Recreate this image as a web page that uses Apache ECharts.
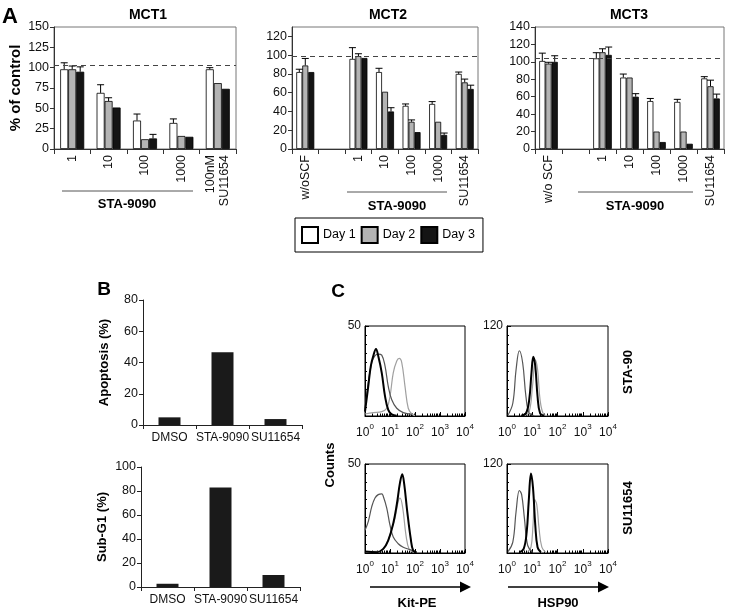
<!DOCTYPE html>
<html><head><meta charset="utf-8">
<script src="https://cdn.jsdelivr.net/npm/echarts@6/dist/echarts.min.js"></script>
<style>html,body{margin:0;padding:0;background:#fff}#c{width:733px;height:615px}</style>
</head><body><div id="c"></div>
<script>
// ---------- Panel A data ----------
const mct1Cats = ['1', '10', '100', '1000', '100nM\nSU11654'];
const mct1Day1 = [98, 69, 35, 32, 98];
const mct1Day2 = [98, 59, 12, 16, 81];
const mct1Day3 = [95, 51, 13, 15, 74];
const mct1Err1 = [8, 10, 8, 5, 2];
const mct1Err2 = [4, 4, null, null, null];
const mct1Err3 = [6, null, 5, null, null];
const mct1Ref = 103;
const mct1Ticks = [0, 150, 25];

const mct2Cats = ['w/oSCF', '', '1', '10', '100', '1000', 'SU11654'];
const mct2Day1 = [82, null, 96, 82, 46, 48, 80];
const mct2Day2 = [89, null, 99, 61, 29, 29, 71];
const mct2Day3 = [82, null, 97, 40, 18, 15, 64];
const mct2Err1 = [3, null, 12, 4, 2, 2.5, 2];
const mct2Err2 = [7.5, null, 2.5, null, 2, null, 3.5];
const mct2Err3 = [null, null, null, 4, null, 2, 4];
const mct2Ref = 99;
const mct2Ticks = [0, 130, 20];

const mct3Cats = ['w/o SCF', '', '1', '10', '100', '1000', 'SU11654'];
const mct3Day1 = [101, null, 104, 82, 55, 54, 81];
const mct3Day2 = [98, null, 111, 82, 20, 20, 72];
const mct3Day3 = [100, null, 108, 60, 8, 6, 58];
const mct3Err1 = [9, null, 6.5, 4, 3, 3, 2];
const mct3Err2 = [1.5, null, 4, null, null, null, 7];
const mct3Err3 = [7, null, 9, 3.5, null, null, 5];
const mct3Ref = 104;
const mct3Ticks = [0, 140, 20];

const dayNames = ['Day 1', 'Day 2', 'Day 3'];

// ---------- Panel B data ----------
const bCats = ['DMSO', 'STA-9090', 'SU11654'];
const apoptosis = [4.9, 46.5, 3.8];
const subG1 = [2.7, 83, 10];

// ---------- Panel C data (x in decades of fluorescence, y = counts) ----------
const decadeLabels = [0, 1, 2, 3, 4];
const tlBlack = [[0,2.4],[0.13,16.4],[0.23,27.6],[0.33,33.3],[0.44,37.2],[0.53,33.3],[0.67,24],[0.8,11],[0.93,3.4],[1.07,0.9],[1.27,0.2]];
const tlDark  = [[0,3.4],[0.13,18.4],[0.27,29.7],[0.4,33.5],[0.53,34.4],[0.67,33.8],[0.8,27.8],[0.93,16.5],[1.07,9],[1.27,4.3],[1.53,1.9],[1.87,0.9]];
const tlLight = [[0,1.1],[0.33,1.9],[0.67,2.4],[0.87,4.3],[1.0,10.9],[1.13,24],[1.27,30.6],[1.37,32],[1.47,29.7],[1.6,16.5],[1.73,4.3],[1.87,1.1],[2.0,0.2]];
const trDark  = [[0.04,1.4],[0.23,17],[0.36,62],[0.49,87],[0.62,71],[0.75,26],[0.88,3.6],[1.08,0.5]];
const trBlack = [[0.56,0.5],[0.75,3.6],[0.88,21.7],[0.97,57.7],[1.04,79],[1.12,66.8],[1.21,26],[1.31,3.6],[1.47,0.5]];
const trLight = [[0.69,0.5],[0.88,5.9],[1.01,39.7],[1.12,75],[1.21,62.3],[1.31,21.7],[1.44,2.7],[1.6,0.5]];
const blDark  = [[0,12.8],[0.13,17.6],[0.27,26.1],[0.4,30.9],[0.53,32.8],[0.67,33.2],[0.73,31.9],[0.87,25.2],[1.0,15.6],[1.13,9],[1.33,5.2],[1.53,3.2],[1.8,1.9],[2.0,0.8]];
const blBlack = [[0,0.8],[0.47,0.4],[0.73,2.3],[0.93,7.1],[1.13,16.6],[1.27,27.1],[1.4,39.5],[1.49,44.3],[1.57,38.5],[1.69,23.3],[1.83,8],[1.93,1.3],[2.07,0.4]];
const blLight = [[0,0.8],[0.6,1],[0.87,5.2],[1.07,13.7],[1.2,19.5],[1.33,29],[1.4,30.9],[1.51,25.2],[1.64,9.9],[1.77,1.9],[1.93,0.4]];
const brDark  = [[0.04,1.8],[0.23,14.7],[0.36,55.9],[0.49,84.3],[0.58,78.8],[0.69,46.7],[0.82,10.1],[1.01,0.9]];
const brBlack = [[0.49,0.9],[0.66,5.5],[0.78,28.4],[0.86,69.6],[0.95,107.2],[1.03,87.9],[1.12,37.6],[1.21,7.8],[1.34,0.9]];
const brLight = [[0.82,1.8],[0.95,7.8],[1.03,37.6],[1.1,71.9],[1.18,65],[1.27,33],[1.38,7.8],[1.53,0.9]];
const kitMax = 50;
const hspMax = 120;

// ---------- build ----------
const FF = 'Liberation Sans, Arial, sans-serif';
const dayColors = ['#ffffff', '#b4b4b4', '#141414'];

const grids = [
  {left: 54, top: 27, width: 182, height: 122, show: true, borderColor: '#777', borderWidth: 1},
  {left: 292, top: 27, width: 186, height: 122, show: true, borderColor: '#777', borderWidth: 1},
  {left: 535, top: 27, width: 189, height: 122, show: true, borderColor: '#777', borderWidth: 1},
  {left: 143, top: 300, width: 159, height: 125},
  {left: 141, top: 467, width: 159, height: 120},
  {left: 365, top: 326, width: 100, height: 90, show: true, borderColor: '#000', borderWidth: 1},
  {left: 507, top: 326, width: 101, height: 90, show: true, borderColor: '#000', borderWidth: 1},
  {left: 365, top: 464, width: 100, height: 89, show: true, borderColor: '#000', borderWidth: 1},
  {left: 507, top: 464, width: 101, height: 89, show: true, borderColor: '#000', borderWidth: 1}
];

const xAxes = [], yAxes = [], series = [];

function aAxes(gi, cats, ticks, name) {
  xAxes.push({type: 'category', gridIndex: gi, data: cats,
    axisLine: {lineStyle: {color: '#333', width: 1}},
    axisTick: {show: true, length: 5, lineStyle: {color: '#333'}},
    axisLabel: {rotate: 90, interval: 0, fontSize: 12.5, color: '#111', margin: 6, fontFamily: FF, lineHeight: 14}});
  yAxes.push({type: 'value', gridIndex: gi, min: ticks[0], max: ticks[1], interval: ticks[2],
    axisLine: {show: true, lineStyle: {color: '#333'}},
    axisTick: {show: true, length: 4, lineStyle: {color: '#333'}},
    splitLine: {show: false},
    axisLabel: {fontSize: 12.5, color: '#111', margin: 5, fontFamily: FF, showMaxLabel: ticks[1] % ticks[2] === 0},
    name: name || '', nameLocation: 'middle', nameGap: 31, nameRotate: 90,
    nameTextStyle: {fontSize: 15, fontWeight: 'bold', color: '#000', fontFamily: FF}});
}

function errData(vals, errs) {
  const out = [];
  vals.forEach((v, i) => { if (v != null && errs[i] != null) out.push([i, v, errs[i]]); });
  return out;
}

function aSeries(gi, days, errs, ref, bw) {
  days.forEach((d, k) => {
    const s = {type: 'bar', name: dayNames[k], xAxisIndex: gi, yAxisIndex: gi, data: d,
      barWidth: bw, barGap: '0%', animation: false,
      itemStyle: {color: dayColors[k], borderColor: '#000', borderWidth: 0.8}};
    if (k === 0) {
      s.markLine = {silent: true, symbol: 'none', animation: false, label: {show: false},
        lineStyle: {type: [5, 4], color: '#444', width: 1.2}, data: [{yAxis: ref}]};
    }
    series.push(s);
  });
  errs.forEach((e, k) => {
    series.push({type: 'custom', xAxisIndex: gi, yAxisIndex: gi, silent: true, z: 3, animation: false,
      data: errData(days[k], e),
      renderItem: function (params, api) {
        const c = api.coord([api.value(0), api.value(1)]);
        const t = api.coord([api.value(0), api.value(1) + api.value(2)]);
        const x = c[0] + (k - 1) * bw;
        return {type: 'group', children: [
          {type: 'line', shape: {x1: x, y1: c[1], x2: x, y2: t[1]}, style: {stroke: '#000', lineWidth: 1}},
          {type: 'line', shape: {x1: x - 3.5, y1: t[1], x2: x + 3.5, y2: t[1]}, style: {stroke: '#000', lineWidth: 1}}
        ]};
      }});
  });
}

aAxes(0, mct1Cats, mct1Ticks, '% of control');
aAxes(1, mct2Cats, mct2Ticks);
aAxes(2, mct3Cats, mct3Ticks);
aSeries(0, [mct1Day1, mct1Day2, mct1Day3], [mct1Err1, mct1Err2, mct1Err3], mct1Ref, 8);
aSeries(1, [mct2Day1, mct2Day2, mct2Day3], [mct2Err1, mct2Err2, mct2Err3], mct2Ref, 6);
aSeries(2, [mct3Day1, mct3Day2, mct3Day3], [mct3Err1, mct3Err2, mct3Err3], mct3Ref, 6.2);

// Panel B
function bAxes(gi, max, name) {
  xAxes.push({type: 'category', gridIndex: gi, data: bCats,
    axisLine: {lineStyle: {color: '#222'}},
    axisTick: {show: true, length: 4, lineStyle: {color: '#222'}},
    axisLabel: {fontSize: 12, color: '#111', margin: 7, fontFamily: FF, interval: 0}});
  yAxes.push({type: 'value', gridIndex: gi, min: 0, max: max, interval: 20,
    axisLine: {show: true, lineStyle: {color: '#222'}},
    axisTick: {show: true, length: 4, lineStyle: {color: '#222'}},
    splitLine: {show: false},
    axisLabel: {fontSize: 12.5, color: '#111', margin: 5, fontFamily: FF},
    name: name, nameLocation: 'middle', nameGap: 32, nameRotate: 90,
    nameTextStyle: {fontSize: 13, fontWeight: 'bold', color: '#000', fontFamily: FF}});
}
bAxes(3, 80, 'Apoptosis (%)');
bAxes(4, 100, 'Sub-G1 (%)');
series.push({type: 'bar', xAxisIndex: 3, yAxisIndex: 3, data: apoptosis, barWidth: 22, animation: false, itemStyle: {color: '#1a1a1a'}});
series.push({type: 'bar', xAxisIndex: 4, yAxisIndex: 4, data: subG1, barWidth: 22, animation: false, itemStyle: {color: '#1a1a1a'}});

// Panel C
function cAxes(gi, max) {
  xAxes.push({type: 'value', gridIndex: gi, min: 0, max: 4, interval: 1,
    axisLine: {show: true, lineStyle: {color: '#000'}},
    axisTick: {show: true, inside: true, length: 4, lineStyle: {color: '#000'}},
    splitLine: {show: false},
    axisLabel: {margin: 7, color: '#111', fontFamily: FF,
      formatter: v => '{b|10}{s|' + decadeLabels[v] + '}',
      rich: {b: {fontSize: 12, fontFamily: FF, color: '#111', lineHeight: 16, verticalAlign: 'bottom'},
             s: {fontSize: 8, fontFamily: FF, color: '#111', lineHeight: 16, verticalAlign: 'top'}}}});
  yAxes.push({type: 'value', gridIndex: gi, min: 0, max: max, interval: max,
    axisLine: {show: true, lineStyle: {color: '#000'}},
    axisTick: {show: true, inside: true, length: 4, lineStyle: {color: '#000'}},
    minorTick: {show: true, splitNumber: 10, length: 2, lineStyle: {color: '#000'}},
    splitLine: {show: false},
    axisLabel: {fontSize: 12, color: '#111', margin: 4, fontFamily: FF, showMinLabel: false}});
}
cAxes(5, kitMax); cAxes(6, hspMax); cAxes(7, kitMax); cAxes(8, hspMax);
// log minor tick positions
const minorPos = [];
for (let n = 0; n < 4; n++) for (let k = 2; k <= 9; k++) minorPos.push(n + Math.log10(k));
[5, 6, 7, 8].forEach(gi => {
  xAxes.push({type: 'value', gridIndex: gi, min: 0, max: 4, position: 'bottom',
    axisLine: {show: false}, axisLabel: {show: false}, splitLine: {show: false},
    axisTick: {show: true, inside: true, length: 2.5, customValues: minorPos, lineStyle: {color: '#000'}}});
});

function hist(gi, data, color, width, z) {
  series.push({type: 'line', xAxisIndex: gi, yAxisIndex: gi, data: data, showSymbol: false,
    smooth: 0.4, animation: false, z: z, silent: true,
    lineStyle: {color: color, width: width}});
}
hist(5, tlLight, '#a0a0a0', 1.2, 2); hist(5, tlDark, '#555', 1.2, 3); hist(5, tlBlack, '#000', 2, 4);
hist(6, trLight, '#a0a0a0', 1.2, 2); hist(6, trDark, '#555', 1.2, 3); hist(6, trBlack, '#000', 2, 4);
hist(7, blLight, '#a0a0a0', 1.2, 2); hist(7, blDark, '#555', 1.2, 3); hist(7, blBlack, '#000', 2, 4);
hist(8, brLight, '#a0a0a0', 1.2, 2); hist(8, brDark, '#555', 1.2, 3); hist(8, brBlack, '#000', 2, 4);

function txt(x, y, text, size, bold, rot) {
  return {type: 'text', x: x, y: y, rotation: rot || 0, silent: true,
    style: {text: text, fill: '#000', font: (bold ? 'bold ' : '') + size + 'px ' + FF,
      textAlign: 'center', textVerticalAlign: 'middle'}};
}
function hline(x1, x2, y) {
  return {type: 'line', silent: true, shape: {x1: x1, y1: y, x2: x2, y2: y}, style: {stroke: '#555', lineWidth: 1}};
}
function arrow(x1, x2, y) {
  return [{type: 'line', silent: true, shape: {x1: x1, y1: y, x2: x2 - 9, y2: y}, style: {stroke: '#000', lineWidth: 1.5}},
          {type: 'polygon', silent: true, shape: {points: [[x2 - 11, y - 5.5], [x2, y], [x2 - 11, y + 5.5]]}, style: {fill: '#000'}}];
}

const graphic = [
  txt(10, 17, 'A', 22, true),
  txt(104, 290, 'B', 19, true),
  txt(338, 292, 'C', 19, true),
  txt(148, 15, 'MCT1', 14, true),
  txt(388, 15, 'MCT2', 14, true),
  txt(629, 15, 'MCT3', 14, true),
  hline(62, 193, 191), txt(127, 204, 'STA-9090', 13, true),
  hline(347, 447, 192), txt(397, 206, 'STA-9090', 13, true),
  hline(578, 693, 192), txt(635, 206, 'STA-9090', 13, true),
  txt(330, 465, 'Counts', 13, true, Math.PI / 2),
  txt(628, 372, 'STA-90', 13, true, Math.PI / 2),
  txt(628, 508, 'SU11654', 13, true, Math.PI / 2),
  txt(417, 603, 'Kit-PE', 13, true),
  txt(558, 603, 'HSP90', 13, true)
].concat(arrow(370, 471, 587)).concat(arrow(508, 609, 587));

const chart = echarts.init(document.getElementById('c'), null, {renderer: 'canvas'});
chart.setOption({
  animation: false,
  backgroundColor: '#fff',
  textStyle: {fontFamily: FF},
  grid: grids,
  xAxis: xAxes,
  yAxis: yAxes,
  legend: {left: 295, top: 218, data: dayNames, icon: 'rect', itemWidth: 16, itemHeight: 16, itemGap: 5,
    padding: [8, 8, 8, 6], borderColor: '#000', borderWidth: 1, selectedMode: false,
    textStyle: {fontSize: 12.5, color: '#000', fontFamily: FF}},
  series: series,
  graphic: graphic
});
</script></body></html>
